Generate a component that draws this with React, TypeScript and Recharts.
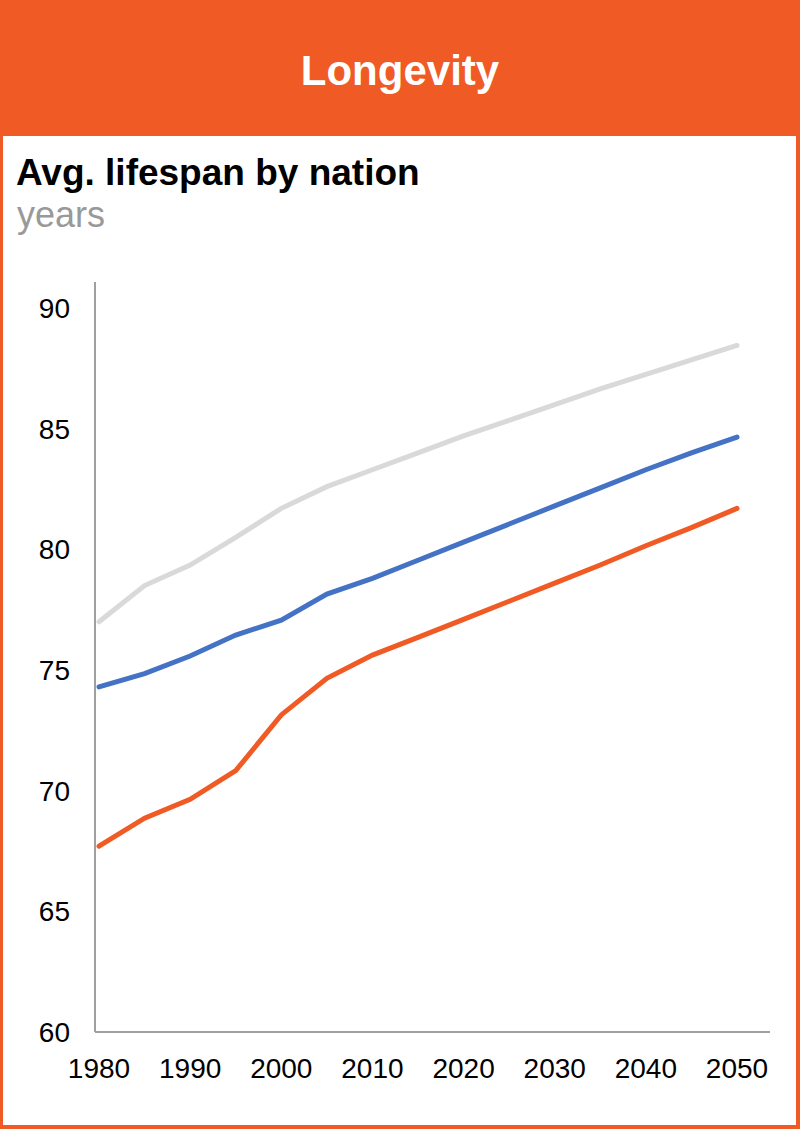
import React from "react";
import { LineChart, Line, XAxis, YAxis } from "recharts";

const years = [1980, 1985, 1990, 1995, 2000, 2005, 2010, 2015, 2020, 2025, 2030, 2035, 2040, 2045, 2050];
const seriesGray = [77.0, 78.5, 79.35, 80.5, 81.7, 82.6, 83.3, 84.0, 84.7, 85.35, 86.0, 86.65, 87.25, 87.85, 88.45];
const seriesBlue = [74.3, 74.85, 75.58, 76.45, 77.07, 78.15, 78.8, 79.55, 80.3, 81.05, 81.8, 82.55, 83.3, 84.0, 84.65];
const seriesOrange = [67.7, 68.86, 69.64, 70.83, 73.14, 74.66, 75.62, 76.35, 77.1, 77.85, 78.6, 79.35, 80.15, 80.9, 81.7];
const xTicks = [1980, 1990, 2000, 2010, 2020, 2030, 2040, 2050];
const yTicks = [60, 65, 70, 75, 80, 85, 90];

const data = years.map((y, i) => ({
  year: y,
  gray: seriesGray[i],
  blue: seriesBlue[i],
  orange: seriesOrange[i],
}));

const ORANGE = "#F05A24";
const FONT = "'Liberation Sans', Arial, Helvetica, sans-serif";

export default function App() {
  return (
    <div style={{ position: "absolute", left: 0, top: 0, width: 803, height: 1129, background: "#fff" }}>
      <div
        style={{
          position: "absolute",
          left: 0,
          top: 0,
          width: 800,
          height: 1129,
          boxSizing: "border-box",
          borderLeft: `3px solid ${ORANGE}`,
          borderRight: `4px solid ${ORANGE}`,
          borderBottom: `4px solid ${ORANGE}`,
        }}
      />
      <div style={{ position: "absolute", left: 0, top: 0, width: 800, height: 136, background: ORANGE }} />
      <svg width={803} height={260} style={{ position: "absolute", left: 0, top: 0 }}>
        <text x={400} y={85} textAnchor="middle" fill="#fff" fontFamily={FONT} fontWeight="bold" fontSize={42}>
          Longevity
        </text>
        <text x={16} y={185} fill="#000" fontFamily={FONT} fontWeight="bold" fontSize={37}>
          Avg. lifespan by nation
        </text>
        <text x={17} y={227} fill="#999999" fontFamily={FONT} fontSize={36}>
          years
        </text>
      </svg>
      <div style={{ position: "absolute", left: 0, top: 0 }}>
        <LineChart
          width={803}
          height={1129}
          data={data}
          margin={{ top: 282, right: 33, bottom: 37, left: 35 }}
        >
          <XAxis
            dataKey="year"
            type="number"
            domain={[1979.56, 2053.62]}
            ticks={xTicks}
            allowDataOverflow
            height={60}
            tickLine={false}
            tickSize={0}
            tickMargin={26}
            axisLine={{ stroke: "#A0A0A0", strokeWidth: 2 }}
            tick={{ fill: "#000", fontSize: 28, fontFamily: FONT }}
            interval={0}
          />
          <YAxis
            type="number"
            domain={[60, 91.08]}
            ticks={yTicks}
            allowDataOverflow
            width={60}
            tickLine={false}
            tickSize={0}
            tickMargin={25}
            axisLine={{ stroke: "#A0A0A0", strokeWidth: 2 }}
            tick={{ fill: "#000", fontSize: 28, fontFamily: FONT }}
            interval={0}
          />
          <Line type="linear" dataKey="gray" stroke="#D9D9D9" strokeWidth={5} strokeLinecap="round" dot={false} isAnimationActive={false} />
          <Line type="linear" dataKey="blue" stroke="#4472C4" strokeWidth={5} strokeLinecap="round" dot={false} isAnimationActive={false} />
          <Line type="linear" dataKey="orange" stroke={ORANGE} strokeWidth={5} strokeLinecap="round" dot={false} isAnimationActive={false} />
        </LineChart>
      </div>
    </div>
  );
}
